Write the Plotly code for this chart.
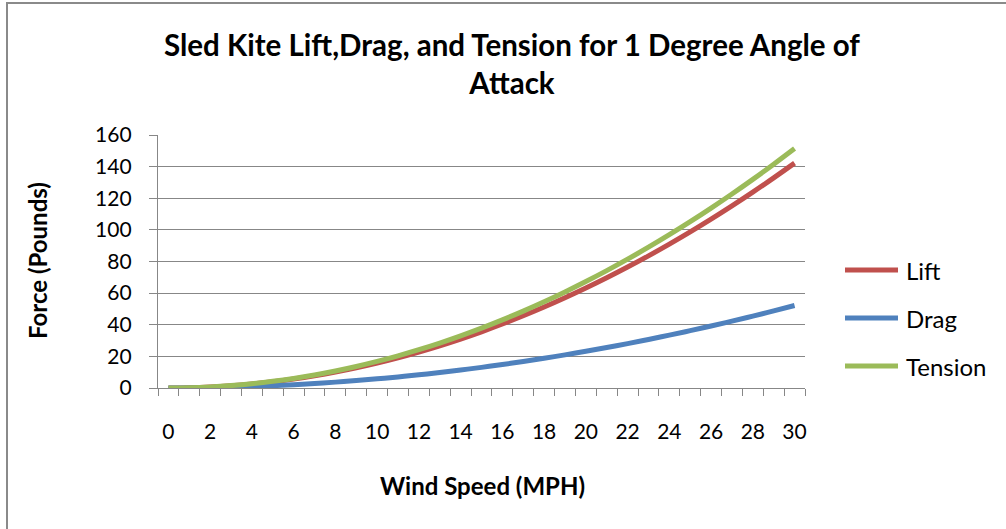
import plotly.graph_objects as go

# Wind speed categories (MPH)
wind_speed = list(range(0, 31))

# Forces in pounds at each wind speed
lift = [0.0, 0.16, 0.63, 1.42, 2.53, 3.95, 5.69, 7.74, 10.11, 12.80, 15.80,
        19.12, 22.75, 26.70, 30.97, 35.55, 40.45, 45.66, 51.19, 57.04, 63.20,
        69.68, 76.47, 83.58, 91.01, 98.75, 106.81, 115.18, 123.87, 132.88, 142.20]
drag = [0.0, 0.06, 0.23, 0.52, 0.93, 1.45, 2.09, 2.84, 3.71, 4.70, 5.80,
        7.02, 8.35, 9.80, 11.37, 13.05, 14.85, 16.76, 18.79, 20.94, 23.20,
        25.58, 28.07, 30.68, 33.41, 36.25, 39.21, 42.28, 45.47, 48.78, 52.20]
tension = [0.0, 0.17, 0.67, 1.51, 2.69, 4.21, 6.06, 8.25, 10.77, 13.63, 16.83,
           20.37, 24.24, 28.44, 32.99, 37.87, 43.09, 48.64, 54.53, 60.76, 67.32,
           74.22, 81.46, 89.04, 96.95, 105.19, 113.78, 122.70, 131.95, 141.55, 151.48]

series_names = ["Lift", "Drag", "Tension"]
series_colors = ["#C0504D", "#4F81BD", "#9BBB59"]
x_labels = [str(v) for v in range(0, 31, 2)]
y_ticks = list(range(0, 161, 20))

FONT = "Lato"
GRID = "#878787"

# plot area geometry in pixels
W, H = 1006, 529
L, R, T, B = 158, 805, 135, 388
pw, ph = R - L, B - T


def px_x(p):
    return (p - L) / pw


def px_y(p):
    return (B - p) / ph


fig = go.Figure()
for name, vals, color in zip(series_names, [lift, drag, tension], series_colors):
    fig.add_trace(go.Scatter(x=wind_speed, y=vals, mode="lines", name=name,
                             line=dict(color=color, width=5, shape="spline"),
                             showlegend=False, hoverinfo="x+y+name"))

# legend drawn as line swatches with labels on the right of the plot
shapes = [dict(type="rect", xref="paper", yref="paper",
               x0=px_x(7), x1=px_x(1012), y0=px_y(535), y1=px_y(3),
               line=dict(color="#8A8A8A", width=2), layer="below")]
annotations = []
for i, (name, color) in enumerate(zip(series_names, series_colors)):
    yy = 270 + 48 * i
    shapes.append(dict(type="line", xref="paper", yref="paper",
                       x0=px_x(845), x1=px_x(898), y0=px_y(yy), y1=px_y(yy),
                       line=dict(color=color, width=5)))
    annotations.append(dict(text=name, xref="paper", yref="paper",
                            x=px_x(904), y=px_y(yy), xanchor="left", yanchor="middle",
                            showarrow=False, font=dict(size=24, family=FONT)))

# axis titles
annotations.append(dict(text="<b>Wind Speed (MPH)</b>", xref="paper", yref="paper",
                        x=px_x(482), y=px_y(485), xanchor="center", yanchor="middle",
                        showarrow=False, font=dict(size=24, family=FONT)))
annotations.append(dict(text="<b>Force (Pounds)</b>", xref="paper", yref="paper",
                        x=px_x(37), y=px_y(261), xanchor="center", yanchor="middle",
                        textangle=-90, showarrow=False, font=dict(size=24, family=FONT)))

fig.update_layout(
    width=W, height=H,
    margin=dict(l=L, r=W - R, t=T, b=H - B, pad=0),
    paper_bgcolor="white", plot_bgcolor="white",
    font=dict(family=FONT, color="black", size=21),
    title=dict(text="Sled Kite Lift,Drag, and Tension for 1 Degree Angle of<br>Attack",
               font=dict(family=FONT, size=29.5, color="black", weight="bold"),
               x=512 / W, xanchor="center", y=1 - 56 / H, yanchor="middle"),
    xaxis=dict(range=[-0.5, 30.5], tickmode="array",
               tickvals=list(range(0, 31, 2)), ticktext=x_labels,
               ticks="", showgrid=False, zeroline=False,
               showline=True, linecolor=GRID, linewidth=1.3,
               ticklabelstandoff=25,
               tickfont=dict(size=21, family=FONT),
               minor=dict(tick0=-0.5, dtick=1, ticks="outside", ticklen=7,
                          tickcolor=GRID, tickwidth=1.3, showgrid=False)),
    yaxis=dict(range=[0, 160], tickmode="array", tickvals=y_ticks,
               ticks="outside", ticklen=8, tickcolor=GRID, tickwidth=1.3,
               showgrid=True, gridcolor=GRID, gridwidth=1.3,
               zeroline=False, showline=True, linecolor=GRID, linewidth=1.3,
               ticklabelstandoff=13,
               tickfont=dict(size=21, family=FONT)),
    showlegend=False,
    shapes=shapes,
    annotations=annotations,
)

fig.write_html("out.html")
